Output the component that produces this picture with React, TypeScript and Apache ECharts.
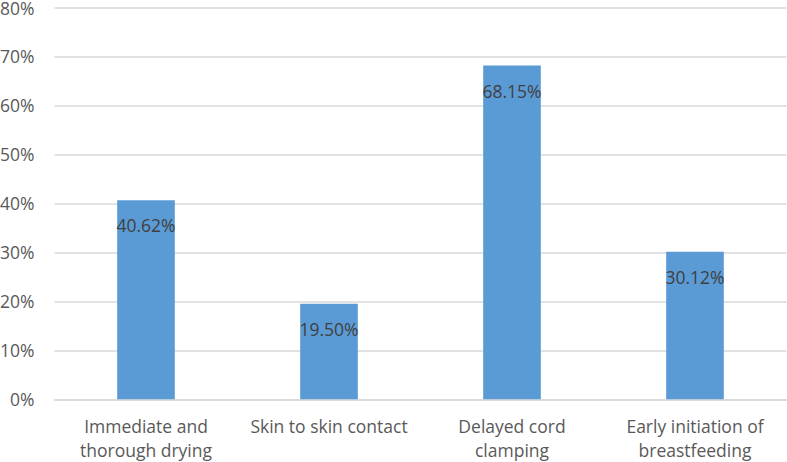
import React, { useEffect, useRef } from "react";
import * as echarts from "echarts";

const categories = [
  "Immediate and\nthorough drying",
  "Skin to skin contact",
  "Delayed cord\nclamping",
  "Early initiation of\nbreastfeeding",
];
const values = [40.62, 19.5, 68.15, 30.12];
const yTicks = [0, 10, 20, 30, 40, 50, 60, 70, 80];

const FONT = "Open Sans";

export default function App() {
  const ref = useRef<HTMLDivElement>(null);
  useEffect(() => {
    if (!ref.current) return;
    const chart = echarts.init(ref.current, undefined, { renderer: "svg" });
    chart.setOption({
      animation: false,
      backgroundColor: "#ffffff",
      grid: {
        left: 54.5,
        right: 0.5,
        top: 7.5,
        bottom: 62.7,
        containLabel: false,
        outerBoundsMode: "none",
      },
      xAxis: {
        type: "category",
        data: categories,
        axisLine: { show: true, lineStyle: { color: "#d9d9d9", width: 1.5 } },
        axisTick: { show: false },
        axisLabel: {
          color: "#595959",
          fontFamily: FONT,
          fontSize: 17.5,
          lineHeight: 24,
          margin: 15,
          interval: 0,
        },
      },
      yAxis: {
        type: "value",
        min: yTicks[0],
        max: yTicks[yTicks.length - 1],
        interval: 10,
        axisLine: { show: false },
        axisTick: { show: false },
        splitLine: { lineStyle: { color: "#d9d9d9", width: 1.5 } },
        axisLabel: {
          color: "#595959",
          fontFamily: FONT,
          fontSize: 17.5,
          margin: 20,
          formatter: (v: number) => `${v}%`,
        },
      },
      series: [
        {
          type: "bar",
          data: values,
          barWidth: "31.5%",
          itemStyle: { color: "#5b9bd5" },
          label: {
            show: true,
            position: "insideTop",
            distance: 16,
            color: "#404040",
            fontFamily: FONT,
            fontSize: 17.5,
            formatter: (p: any) => `${p.value.toFixed(2)}%`,
          },
        },
      ],
    });
    return () => chart.dispose();
  }, []);
  return (
    <div
      ref={ref}
      style={{ position: "fixed", left: 0, top: 0, width: 787, height: 462 }}
    />
  );
}
